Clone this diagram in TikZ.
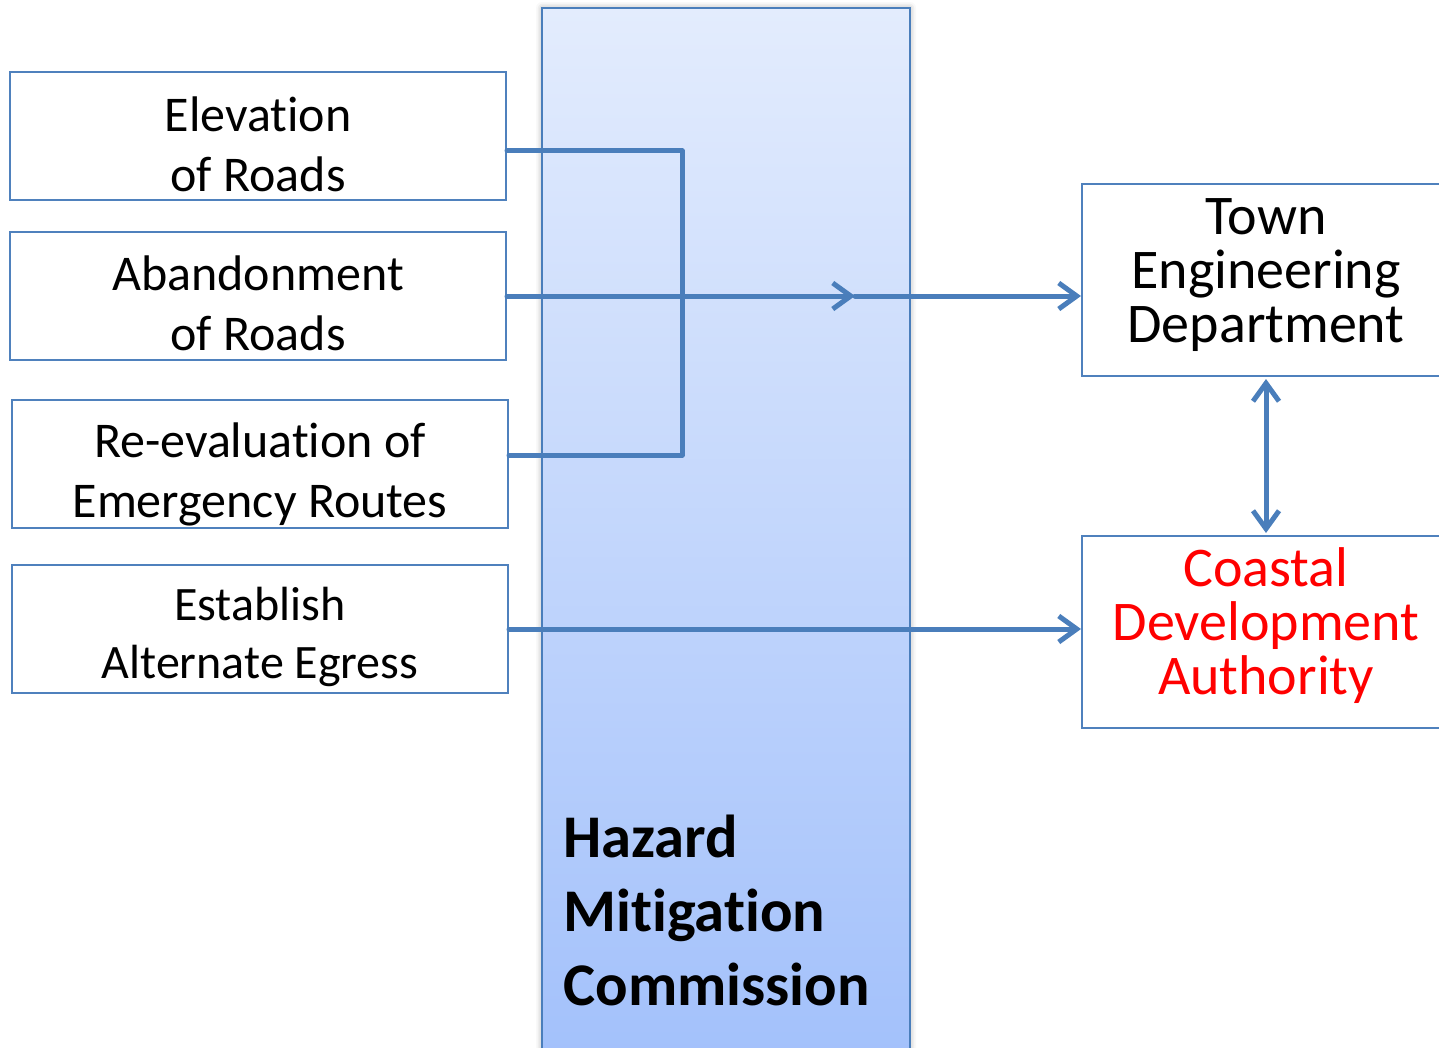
\documentclass[tikz,border=0pt]{standalone}
\usepackage{fontspec}
\setmainfont[Ligatures=NoCommon]{Carlito}
\usetikzlibrary{arrows.meta,calc,shadows.blur}
\definecolor{flowline}{HTML}{4A7EBB}
\definecolor{boxline}{HTML}{4F81BD}
\definecolor{coltop}{HTML}{E3ECFD}
\definecolor{colbot}{HTML}{A3C1FB}
\definecolor{alertred}{HTML}{FF0000}
\begin{document}
\begin{tikzpicture}[x=0.5pt,y=-0.5pt,
  actbox/.style={draw=boxline,line width=1pt,fill=white,minimum width=248pt,
    minimum height=64pt,inner sep=0pt},
  acttext/.style={inner sep=0pt,align=center,font=\fontsize{25}{30}\selectfont},
  smalltext/.style={acttext,font=\fontsize{24}{29}\selectfont},
  agency/.style={draw=boxline,line width=1pt,fill=white,minimum width=184pt,
    minimum height=96pt,inner sep=0pt},
  agtext/.style={inner sep=0pt,align=center,font=\fontsize{28}{27}\selectfont},
  column/.style={draw=flowline,line width=1.2pt,minimum width=184pt,
    minimum height=524pt,inner sep=0pt,top color=coltop,bottom color=colbot,
    blur shadow={shadow xshift=0pt,shadow yshift=0pt,shadow blur radius=3pt,
      shadow opacity=35}},
  flow/.style={draw=flowline,line width=2.5pt,line cap=round,line join=round},
  tip/.style={-{Straight Barb[length=9pt,width=13pt]}},
  bitip/.style={{Straight Barb[length=9pt,width=13pt]}-{Straight Barb[length=9pt,width=13pt]}}
]
\useasboundingbox (0,0) rectangle (1439,1048);

% commission column in the background
\node[column] (hmc) at (726,532) {};
\node[anchor=north west,inner sep=0pt,align=left,
  font=\fontsize{30.3}{36.8}\selectfont\bfseries] (hmclabel) at (563,815)
  {Hazard\\Mitigation\\Commission};

% actions on the left
\node[actbox,label={[acttext,yshift=-4pt]center:{Elevation\\of Roads}}]
  (elev) at (258,136) {};
\node[actbox,label={[acttext,yshift=-3.5pt]center:{Abandonment\\of Roads}}]
  (aband) at (258,296) {};
\node[actbox,label={[acttext,yshift=-5pt]center:{Re-evaluation of\\Emergency Routes}}]
  (reeval) at (260,464) {};
\node[actbox,label={[smalltext,yshift=-4pt]center:{Establish\\Alternate Egress}}]
  (egress) at (260,629) {};

% agencies on the right
\node[agency,label={[agtext,yshift=2.5pt]center:{Town\\Engineering\\Department}}]
  (ted) at (1266,280) {};
\node[agency,label={[agtext,text=alertred,yshift=3pt]center:{Coastal\\Development\\Authority}}]
  (cda) at (1266,632) {};

% bracket joining the road actions
\coordinate (brtop) at ($(elev.east)+(0,15)$);
\coordinate (brbot) at ($(reeval.east)+(0,-9)$);
\draw[flow] (brtop) -- (brtop -| 682,0) -- (brbot -| 682,0) -- (brbot);

% main flow to the engineering department, with a tip midway
\coordinate (midtip) at (aband.east -| 855,0);
\draw[flow,tip] (aband.east) -- (midtip);
\draw[flow,tip] (midtip) -- (aband.east -| ted.west);

% egress flow to the coastal authority
\draw[flow,tip] (egress.east) -- (egress.east -| cda.west);

% link between the two agencies
\draw[flow,bitip] ([yshift=-1pt]ted.south) -- ([yshift=1pt]cda.north);
\end{tikzpicture}
\end{document}
